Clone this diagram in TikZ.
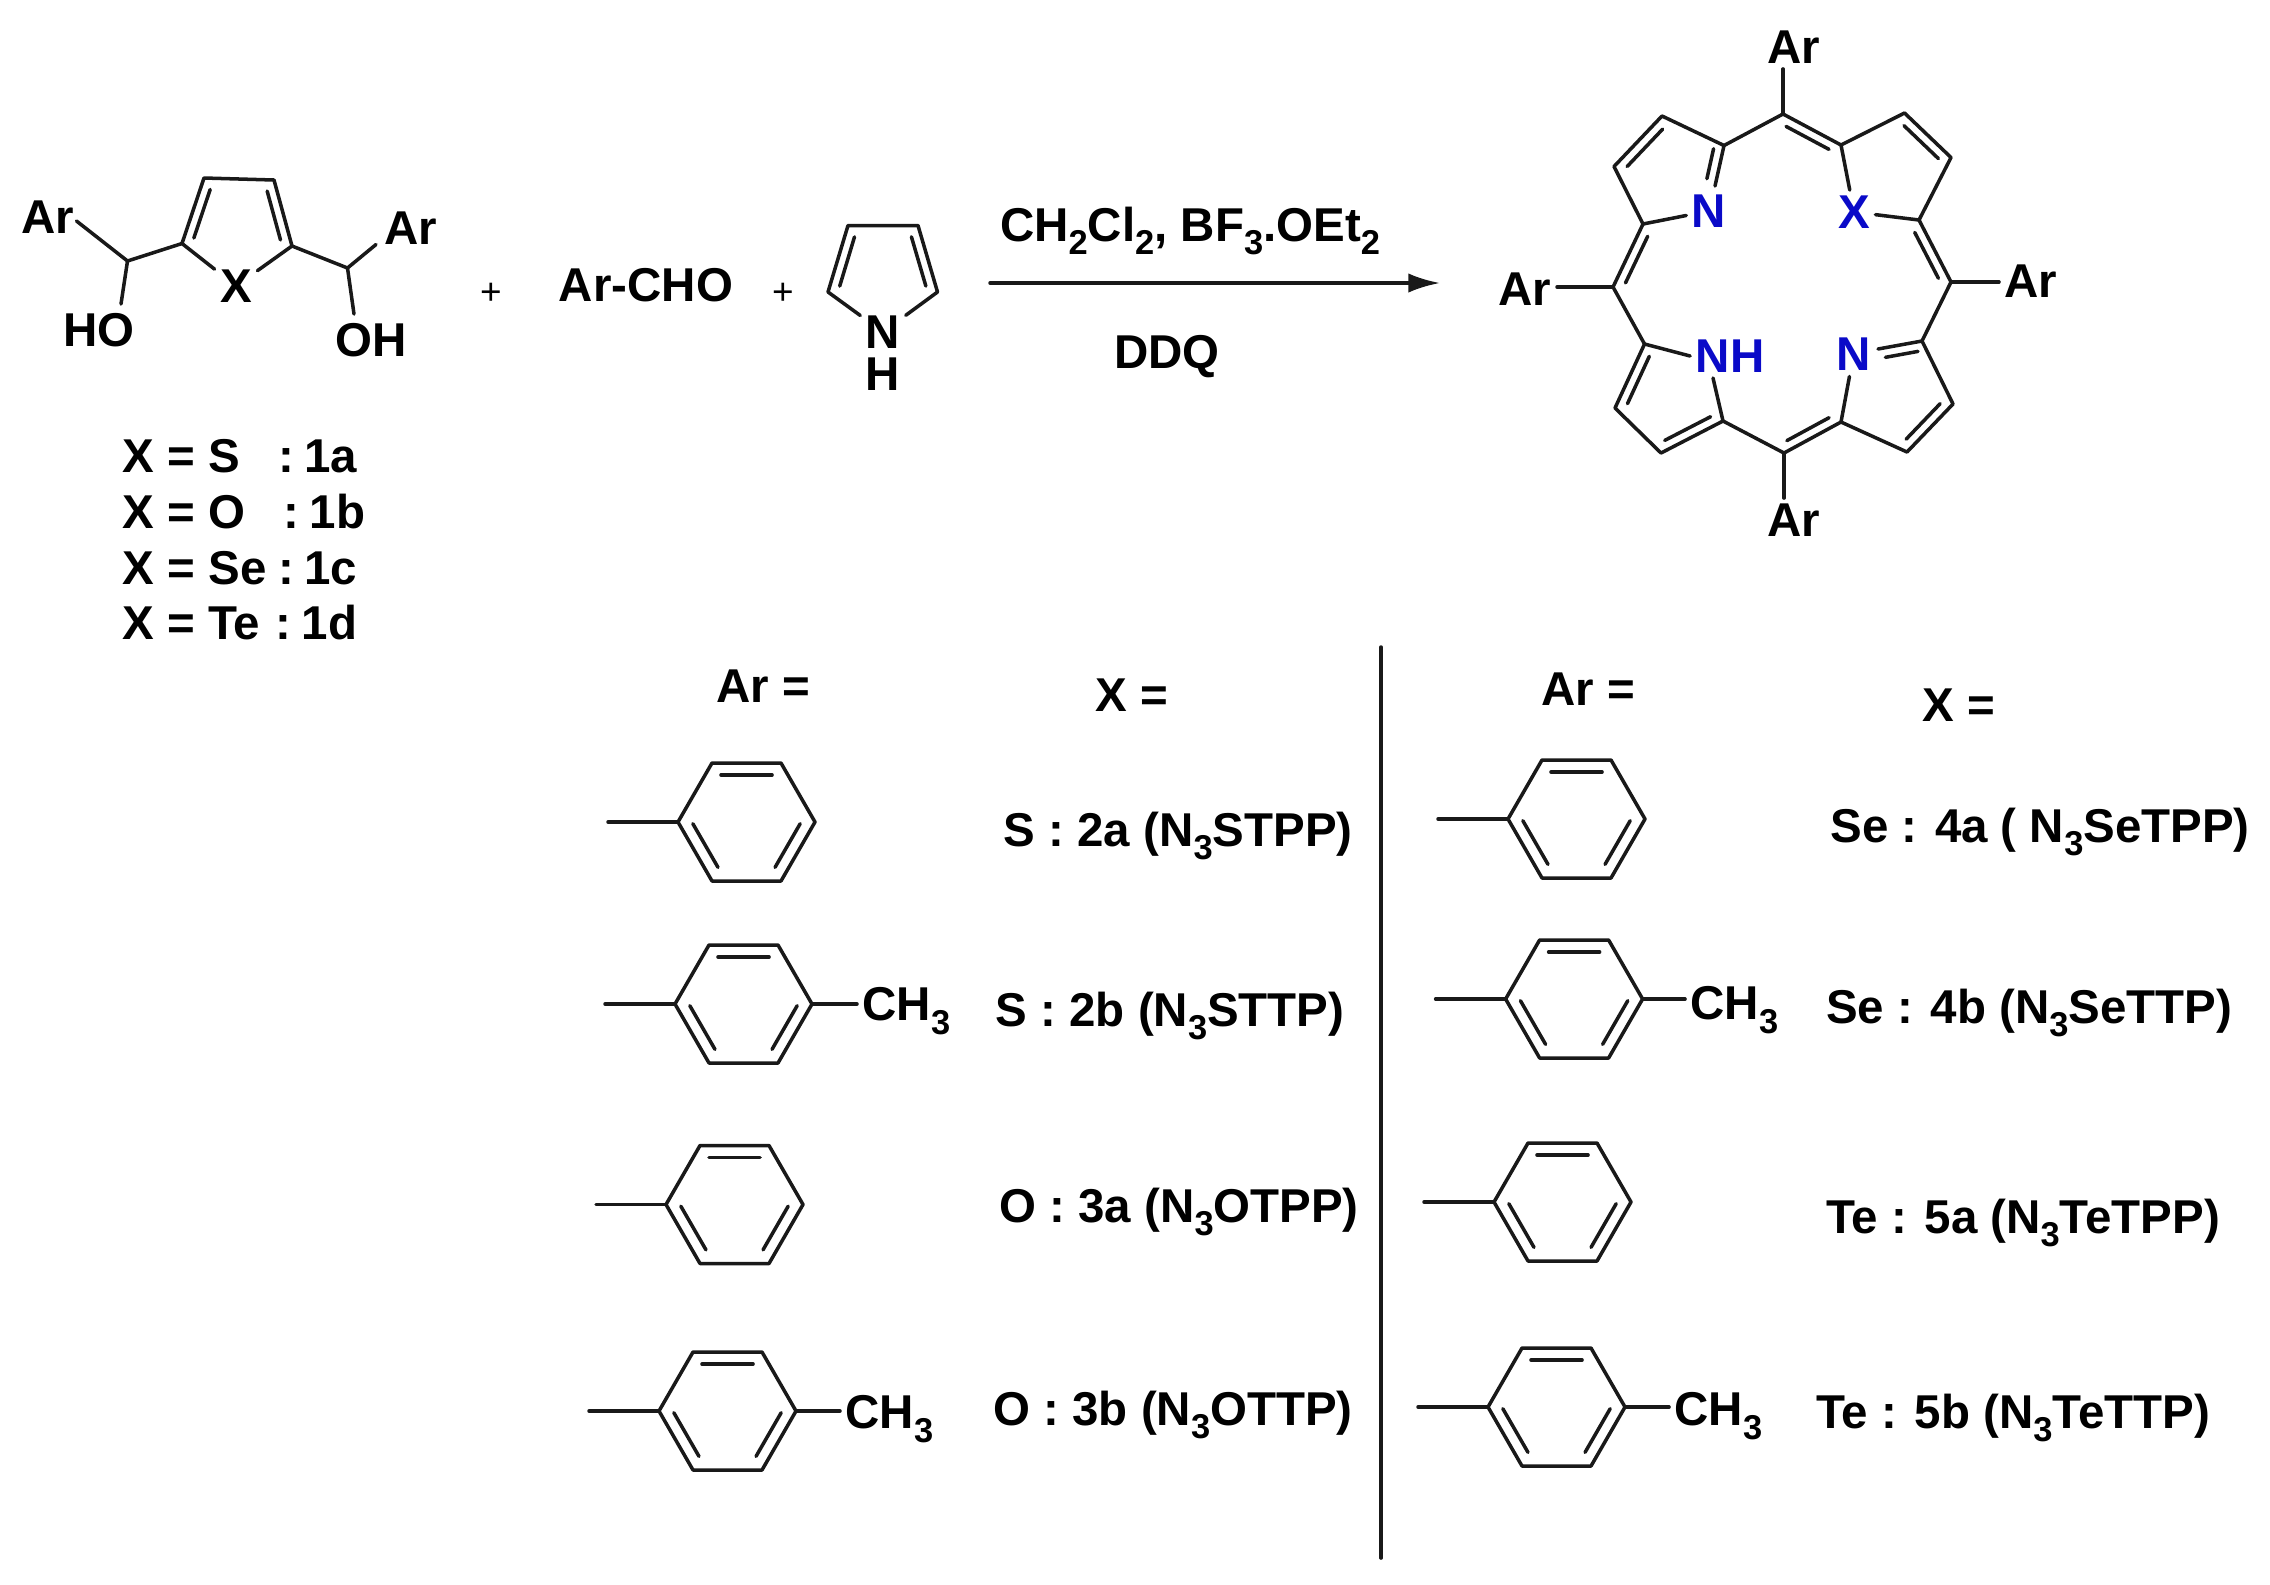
\documentclass[tikz,border=0pt]{standalone}
\usepackage{fontspec}
\setmainfont{Liberation Sans}
\usetikzlibrary{calc,arrows.meta}
\newcommand\sbs[1]{\raisebox{-0.55ex}{\fontsize{9.8}{11}\selectfont #1}}
\newcommand\dbl[3][.095cm]{\draw[bond] ($(#2)!.13!(#3)!#1!90:(#3)$) -- ($(#3)!.13!(#2)!#1!-90:(#2)$);}
\definecolor{atomblue}{RGB}{10,10,200}
\definecolor{ink}{RGB}{25,25,25}
\tikzset{
  bond/.style={draw=ink,line width=1pt,line cap=round,line join=round},
  txt/.style={font=\fontsize{13.5}{15}\selectfont\bfseries,text=black,inner sep=1.4pt},
  atom/.style={txt,text=atomblue},
  plussign/.style={font=\fontsize{10.5}{12}\selectfont,text=black,inner sep=0pt},
  arring/.pic={
    \coordinate (-s) at (-70,0);
    \coordinate (-i) at (0,0);
    \coordinate (-tl) at (34,-59);
    \coordinate (-tr) at (103,-59);
    \coordinate (-r) at (137,0);
    \coordinate (-br) at (103,59);
    \coordinate (-bl) at (34,59);
    \draw[bond] (-s) -- (-i);
    \draw[bond] (-i) -- (-tl) -- (-tr) -- (-r) -- (-br) -- (-bl) -- cycle;
    \dbl[.12cm]{-tr}{-tl}
    \dbl[.12cm]{-br}{-r}
    \dbl[.12cm]{-i}{-bl}
  }
}
\begin{document}
\begin{tikzpicture}[x=0.01cm,y=-0.01cm]
\useasboundingbox (0,0) rectangle (2270,1584);
% ---- diol
\coordinate (fb1) at (204,178);
\coordinate (fb2) at (274,180);
\coordinate (fa2) at (292,246);
\coordinate (fa1) at (182,243.5);
\coordinate (ch1) at (127.5,261);
\coordinate (ch2) at (347.5,268);
\coordinate (e1) at (76.5,221);
\coordinate (e2) at (121,304);
\coordinate (e3) at (376,244.5);
\coordinate (e4) at (354,314);
\node[txt] (fx) at (236,286) {X};
\node[txt] (far1) at (48,217) {Ar};
\node[txt] (far2) at (411,228) {Ar};
\node[txt] (fho) at (99,330) {HO};
\node[txt] (foh) at (371,340) {OH};
\draw[bond] (fx) -- (fa1) -- (fb1) -- (fb2) -- (fa2) -- (fx);
\dbl{fb1}{fa1}
\dbl{fa2}{fb2}
\draw[bond] (fa1) -- (ch1) -- (e1);
\draw[bond] (ch1) -- (e2);
\draw[bond] (fa2) -- (ch2) -- (e3);
\draw[bond] (ch2) -- (e4);
\node[plussign] (p1) at (491,293.5) {+};
\node[txt] (cho) at (646,285) {Ar-CHO};
\node[plussign] (p2) at (783,293.5) {+};
% ---- pyrrole
\coordinate (pb1) at (848,225.5);
\coordinate (pb2) at (918,225.5);
\coordinate (pa2) at (937.5,292);
\coordinate (pa1) at (828,292);
\node[txt] (pn) at (883,332) {N};
\node[txt] (ph) at (883,374) {H};
\draw[bond] (pn) -- (pa1) -- (pb1) -- (pb2) -- (pa2) -- (pn);
\dbl{pb1}{pa1}
\dbl{pa2}{pb2}
% ---- list
\foreach \nm/\yy/\lab/\en/\ex in {a/456/X = S/1a/358,b/512/X = O/1b/366,c/568/X = Se/1c/358,d/623/X = Te/1d/358}{
  \node[txt,anchor=west] (l\nm) at (117,\yy) {\lab};
  \node[txt,anchor=east] (m\nm) at (\ex+5,\yy) {:\hspace{3pt}\en};
}
% ---- arrow
\coordinate (as) at (990,283);
\coordinate (ae) at (1440,283);
\draw[bond,-{Latex[length=9pt,width=5.5pt]}] (as) -- (ae);
\node[txt] (cond1) at (1190,231) {CH\sbs{2}Cl\sbs{2}, BF\sbs{3}.OEt\sbs{2}};
\node[txt] (cond2) at (1167,357) {DDQ};
% ---- porphyrin
\coordinate (mT) at (1783,114);
\coordinate (mL) at (1613,287);
\coordinate (mB) at (1784,453);
\coordinate (mR) at (1951,282);
\coordinate (a1) at (1724,145.5);
\coordinate (b1) at (1662,116);
\coordinate (b2) at (1614,166.5);
\coordinate (a2) at (1643,224);
\coordinate (a3) at (1644.5,344);
\coordinate (b3) at (1615,408);
\coordinate (b4) at (1661,453);
\coordinate (a4) at (1723,421);
\coordinate (a5) at (1841,422);
\coordinate (b5) at (1907,452);
\coordinate (b6) at (1953,404);
\coordinate (a6) at (1922,341);
\coordinate (a7) at (1919,220);
\coordinate (b7) at (1951,157.5);
\coordinate (b8) at (1904.5,113);
\coordinate (a8) at (1841,145);
\coordinate (n1t) at (1715,186);
\coordinate (n3r) at (1878,349);
\coordinate (nhs) at (1713,378);
\node[atom] (n1) at (1709,211) {N};
\node[atom] (xx) at (1854,212) {X};
\node[atom] (nh) at (1730,356) {NH};
\node[atom] (n3) at (1853.5,354.5) {N};
\node[txt] (arT) at (1794,47) {Ar};
\node[txt] (arL) at (1525,289) {Ar};
\node[txt] (arB) at (1794,520) {Ar};
\node[txt] (arR) at (2031,281) {Ar};
\draw[bond] (mT) -- (arT.south -| mT);
\draw[bond] (mB) -- (arB.north -| mB);
\draw[bond] (mL) -- (arL.east |- mL);
\draw[bond] (mR) -- (arR.west |- mR);
\draw[bond] (n1t) -- (a1) -- (b1) -- (b2) -- (a2) -- (n1);
\draw[bond] (a1) -- (mT) -- (a8);
\draw[bond] (xx) -- (a8) -- (b8) -- (b7) -- (a7) -- (xx);
\draw[bond] (a2) -- (mL) -- (a3);
\draw[bond] (nh.west) -- (a3) -- (b3) -- (b4) -- (a4) -- (nhs);
\draw[bond] (a4) -- (mB) -- (a5);
\draw[bond] (n3) -- (a5) -- (b5) -- (b6) -- (a6) -- (n3r);
\draw[bond] (a6) -- (mR) -- (a7);
\dbl{b1}{b2}
\dbl{n1t}{a1}
\dbl{a2}{mL}
\dbl{a3}{b3}
\dbl{b4}{a4}
\dbl{mB}{a5}
\dbl{b5}{b6}
\dbl{a6}{n3r}
\dbl{mR}{a7}
\dbl{b7}{b8}
\dbl{a8}{mT}
% ---- table
\coordinate (vt) at (1381,647);
\coordinate (vb) at (1381,1558);
\draw[bond] (vt) -- (vb);
\node[txt] (ar1) at (763,686) {Ar =};
\node[txt] (x1) at (1132,695) {X =};
\node[txt] (ar2) at (1588,689) {Ar =};
\node[txt] (x2) at (1959,705) {X =};
\node[txt] (t2a) at (1178,836) {S : 2a (N\sbs{3}STPP)};
\node[txt] (t2b) at (1170,1016) {S : 2b (N\sbs{3}STTP)};
\node[txt] (t3a) at (1179,1212) {O : 3a (N\sbs{3}OTPP)};
\node[txt] (t3b) at (1173,1415) {O : 3b (N\sbs{3}OTTP)};
\node[txt] (t4a) at (2040,832) {Se : 4a ( N\sbs{3}SeTPP)};
\node[txt] (t4b) at (2029,1013) {Se : 4b (N\sbs{3}SeTTP)};
\node[txt] (t5a) at (2023,1223) {Te : 5a (N\sbs{3}TeTPP)};
\node[txt] (t5b) at (2013,1418) {Te : 5b (N\sbs{3}TeTTP)};
% ---- aryl rings
\pic (r1) at (678,822) {arring};
\pic (r2) at (675,1004) {arring};
\pic (r3) at (666,1204.5) {arring};
\pic (r4) at (659,1411) {arring};
\pic (r5) at (1508,819) {arring};
\pic (r6) at (1505.6,999) {arring};
\pic (r7) at (1494,1202) {arring};
\pic (r8) at (1488,1407) {arring};
\node[txt,anchor=west] (c2) at (857,1011) {CH\sbs{3}};
\node[txt,anchor=west] (c4) at (840,1419) {CH\sbs{3}};
\node[txt,anchor=west] (c6) at (1685,1010) {CH\sbs{3}};
\node[txt,anchor=west] (c8) at (1669,1416) {CH\sbs{3}};
\draw[bond] (r2-r) -- (c2.west |- r2-r);
\draw[bond] (r4-r) -- (c4.west |- r4-r);
\draw[bond] (r6-r) -- (c6.west |- r6-r);
\draw[bond] (r8-r) -- (c8.west |- r8-r);
\end{tikzpicture}
\end{document}
